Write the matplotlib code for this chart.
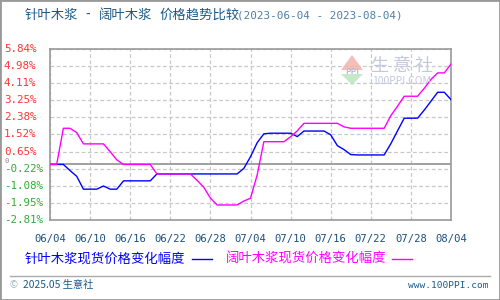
import matplotlib
matplotlib.use("Agg")
import matplotlib.pyplot as plt
import numpy as np
from matplotlib.patches import Rectangle, Polygon
from matplotlib.lines import Line2D
from matplotlib.transforms import blended_transform_factory

plt.rcParams['font.family'] = ['Noto Sans CJK SC', 'DejaVu Sans']

# ---- data ----
x_tick_labels = ["06/04", "06/10", "06/16", "06/22", "06/28", "07/04",
                 "07/10", "07/16", "07/22", "07/28", "08/04"]
y_ticks = [5.84, 4.98, 4.11, 3.25, 2.38, 1.52, 0.65, -0.22, -1.08, -1.95, -2.81]
y_tick_labels = ["5.84%", "4.98%", "4.11%", "3.25%", "2.38%", "1.52%", "0.65%",
                 "-0.22%", "-1.08%", "-1.95%", "-2.81%"]

softwood = [0, 0, 0, -0.31, -0.6, -1.25, -1.25, -1.25, -1.09, -1.25,
            -1.25, -0.83, -0.83, -0.83, -0.83, -0.83, -0.48, -0.48, -0.48, -0.48,
            -0.48, -0.48, -0.48, -0.48, -0.48, -0.48, -0.48, -0.48, -0.48, -0.2,
            0.39, 1.1, 1.55, 1.58, 1.58, 1.58, 1.58, 1.41, 1.69, 1.69,
            1.69, 1.69, 1.5, 0.95, 0.75, 0.5, 0.48, 0.48, 0.48, 0.48,
            0.48, 1.05, 1.7, 2.34, 2.34, 2.34, 2.75, 3.2, 3.65, 3.65,
            3.28]
hardwood = [0, 0, 1.83, 1.83, 1.61, 1.04, 1.04, 1.04, 1.04, 0.65,
            0.23, 0, 0, 0, 0, 0, -0.48, -0.48, -0.48, -0.48,
            -0.48, -0.48, -0.8, -1.15, -1.7, -2.05, -2.05, -2.05, -2.05, -1.85,
            -1.71, -0.53, 1.15, 1.15, 1.15, 1.15, 1.4, 1.7, 2.08, 2.08,
            2.08, 2.08, 2.08, 2.08, 1.9, 1.83, 1.83, 1.83, 1.83, 1.83,
            1.83, 2.47, 2.95, 3.45, 3.45, 3.45, 3.85, 4.3, 4.63, 4.63,
            5.08]

title_parts = ["针叶木浆", "-", "阔叶木浆", "价格趋势比较"]
title_dates = "(2023-06-04 - 2023-08-04)"
legend_labels = ["针叶木浆现货价格变化幅度", "阔叶木浆现货价格变化幅度"]
colors = ["#0000ff", "#ff00ff"]

W, H = 500, 300
fig = plt.figure(figsize=(5, 3), dpi=100)

def fx(px):
    return px / W

def fy(py):
    return 1 - py / H

ax = fig.add_axes([fx(50), fy(220), fx(451) - fx(50), fy(49) - fy(220)])
x = np.arange(len(softwood))
ax.plot(x, softwood, color=colors[0], lw=1.0, zorder=3)
ax.plot(x, hardwood, color=colors[1], lw=1.0, zorder=3)
ax.set_xlim(0, len(softwood) - 1)
ax.set_ylim(y_ticks[-1], y_ticks[0])

ax.set_xticks(np.arange(0, 61, 6))
ax.set_xticklabels(x_tick_labels, fontsize=7.6, color="#1a4f7a",
                   family=["DejaVu Sans Mono"])
ax.set_yticks(y_ticks)
ax.set_yticklabels([])
trans = blended_transform_factory(fig.transFigure, ax.transData)
for lbl, v in zip(y_tick_labels, y_ticks):
    fig.text(fx(4), v, lbl, transform=trans, fontsize=7.8,
             family=["DejaVu Sans Mono"], ha="left", va="center",
             color="#ff3333" if v > 0 else "#33aa33")
ax.tick_params(axis='both', length=0)
ax.tick_params(axis='x', pad=10)
ax.grid(True, color="#c8c8c8", linestyle=(0, (3, 2)), linewidth=0.9)
ax.axhline(0, color="#999999", lw=1.3, zorder=2)
for s in ax.spines.values():
    s.set_color("#999999")
    s.set_linewidth(1.2)

# zero label
fig.text(fx(7), fy(161), "0", fontsize=5, color="#888888",
         family=["DejaVu Sans Mono"], ha="center", va="center")

# title
for txt, px in zip(title_parts, [25, 85, 99, 159]):
    fig.text(fx(px), fy(15), txt, fontsize=9.6, color="#1a5a8a",
             ha="left", va="center")
fig.text(fx(237), fy(15), title_dates, fontsize=7.9, color="#4f7ea6",
         family=["DejaVu Sans Mono"], ha="left", va="center")

# legend
fig.text(fx(25), fy(259), legend_labels[0], fontsize=9.6, color=colors[0],
         ha="left", va="center")
fig.add_artist(Line2D([fx(192), fx(212)], [fy(259), fy(259)], color=colors[0], lw=1.0))
fig.text(fx(226), fy(259), legend_labels[1], fontsize=9.6, color=colors[1],
         ha="left", va="center")
fig.add_artist(Line2D([fx(392), fx(412)], [fy(259), fy(259)], color=colors[1], lw=1.0))

# footer
fig.add_artist(Line2D([fx(10), fx(490)], [fy(276), fy(276)], color="#aaaaaa", lw=1.0))
fig.text(fx(10), fy(285), "©", fontsize=7, color="#9ab4cc", ha="left", va="center")
fig.text(fx(23), fy(285), "2025.05 生意社", fontsize=7.4, color="#1a5a8a",
         ha="left", va="center")
fig.text(fx(489), fy(285), "www.100PPI.com", fontsize=6.8, color="#1a5a8a",
         family=["DejaVu Sans Mono"], ha="right", va="center")

# watermark
fig.add_artist(Polygon([[fx(341), fy(70)], [fx(352), fy(55)], [fx(363), fy(70)]],
                       closed=True, facecolor="#f4b8b0", edgecolor="none", alpha=0.9))
fig.add_artist(Polygon([[fx(341), fy(74)], [fx(352), fy(85)], [fx(363), fy(74)]],
                       closed=True, facecolor="#bfe6c4", edgecolor="none", alpha=0.9))
fig.text(fx(352), fy(71), "PPI", fontsize=6, color="#b8c0d8", ha="center",
         va="center", weight="bold")
fig.text(fx(402), fy(66), "生 意 社", fontsize=13, color="#c4c8dc",
         ha="center", va="center")
fig.text(fx(402), fy(81), "100PPI.COM", fontsize=7.5, color="#c4c8dc",
         ha="center", va="center")

# outer border
fig.add_artist(Rectangle((0, 0), 1, 1, transform=fig.transFigure, fill=False,
                         edgecolor="#999999", lw=2))

fig.savefig("out.png", dpi=100)
